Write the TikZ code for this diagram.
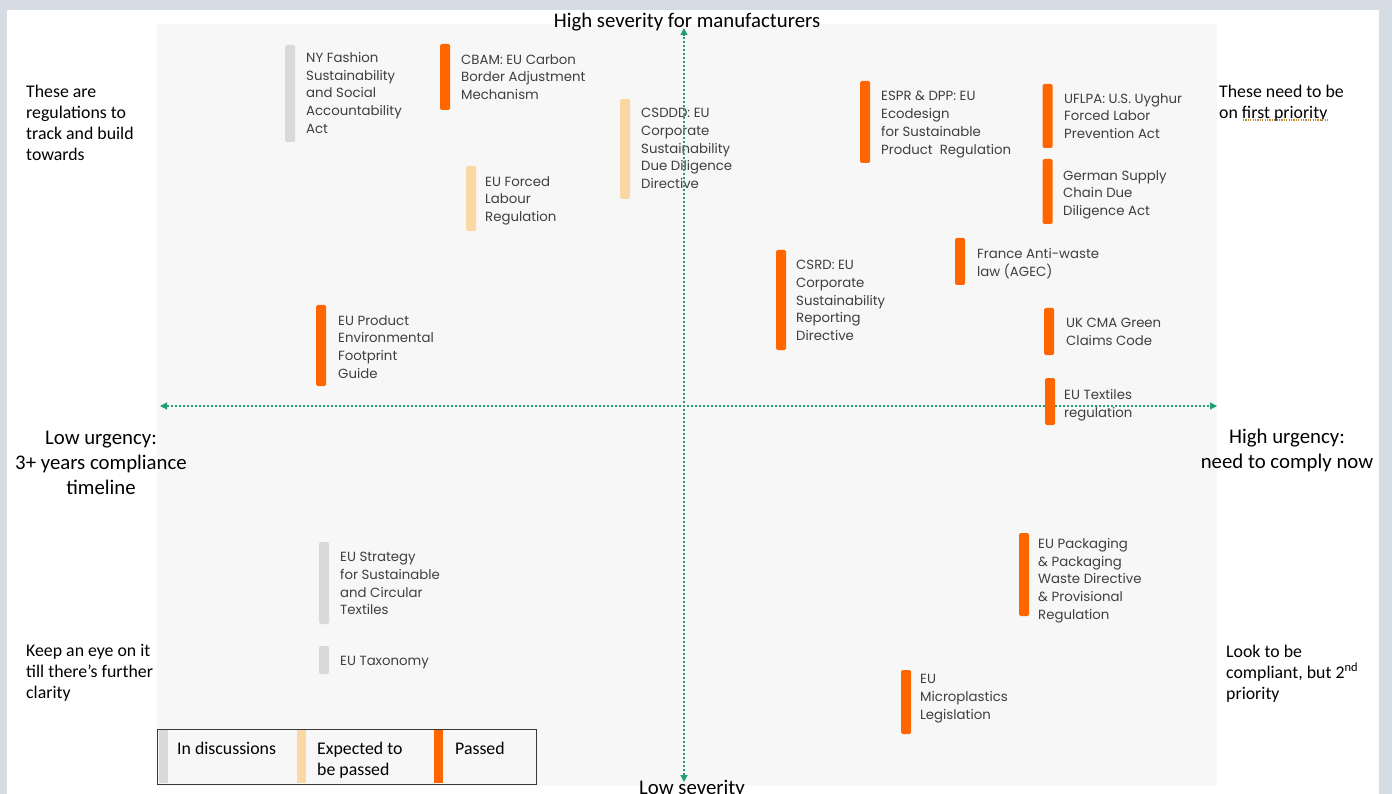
\documentclass[tikz,border=0pt]{standalone}
\usepackage{fontspec}
\setmainfont{Carlito}
\newfontfamily\labelfont{Poppins}
\usetikzlibrary{arrows.meta}
\definecolor{pagebg}{HTML}{D6DCE4}
\definecolor{plotbg}{HTML}{F7F7F7}
\definecolor{passedc}{HTML}{FF6600}
\definecolor{expectedc}{HTML}{F9D8A4}
\definecolor{discussc}{HTML}{D9D9D9}
\definecolor{axisc}{HTML}{1F9E78}
\definecolor{labelc}{HTML}{3F3F3F}
\definecolor{legendc}{HTML}{3A3A3A}
\definecolor{squiggle}{HTML}{C08A30}

\begin{document}
\begin{tikzpicture}[x=1pt,y=-1pt,
  regbar/.style={rectangle, rounded corners=1.5pt, minimum width=10pt, inner sep=0pt, outer sep=0pt},
  passed/.style={regbar, fill=passedc},
  expected/.style={regbar, fill=expectedc},
  discussed/.style={regbar, fill=discussc},
  reglabel/.style={anchor=north west, inner sep=0pt, align=left, text=labelc, font=\labelfont\fontsize{13.3}{17.8}\selectfont},
  note/.style={anchor=north west, inner sep=0pt, align=left, font=\fontsize{17.8}{21}\selectfont},
  axislabel/.style={inner sep=0pt, align=center, font=\fontsize{20.8}{25}\selectfont},
  keybar/.style={rectangle, inner sep=0pt, minimum width=9pt, minimum height=53pt, anchor=north west},
  keytext/.style={anchor=north west, inner sep=0pt, align=left, font=\fontsize{17.8}{21}\selectfont},
  axisline/.style={draw=axisc, line width=1.1pt, dash pattern=on 2.2pt off 1.8pt,
    {Triangle[length=7pt,width=7pt]}-{Triangle[length=7pt,width=7pt]}},
]
\useasboundingbox (0,0) rectangle (1392,794);

% page, slide and plotting area
\fill[pagebg] (0,0) rectangle (1392,794);
\fill[white] (7,10) rectangle (1379,794);
\fill[plotbg] (157,24) rectangle (1217,786);

% quadrant notes
\node[note] (tl) at (26,84.5) {These are\\regulations to\\track and build\\towards};
\node[note] (tr) at (1219,84.5) {These need to be\\on first priority};
\draw[squiggle, line width=1.2pt, dash pattern=on 1.2pt off 1.2pt] (1243,120) -- (1329,120);
\node[note] (bl) at (26,644.5) {Keep an eye on it\\till there’s further\\clarity};
\node[note] (br) at (1226,644.5) {Look to be\\compliant, but 2\textsuperscript{nd}\\priority};

% axis captions (the bottom one runs off the slide's lower edge)
\node[axislabel] (top) at (687,22) {High severity for manufacturers};
\node[axislabel] (bottom) at (692,789) {Low severity};
\node[axislabel] (left) at (101,463) {Low urgency:\\3+ years compliance\\timeline};
\node[axislabel] (right) at (1287,450.5) {High urgency:\\need to comply now};

% regulation labels
\node[reglabel] (ny) at (306,52) {NY Fashion\\Sustainability\\and Social\\Accountability\\Act};
\node[reglabel] (cbam) at (461,54) {CBAM: EU Carbon\\Border Adjustment\\Mechanism};
\node[reglabel] (csddd) at (641,108) {CSDDD: EU\\Corporate\\Sustainability\\Due Diligence\\Directive};
\node[reglabel] (forced) at (485,176) {EU Forced\\Labour\\Regulation};
\node[reglabel] (espr) at (881,91) {ESPR \& DPP: EU\\Ecodesign\\for Sustainable\\Product\ \ Regulation};
\node[reglabel] (uflpa) at (1064,93) {UFLPA: U.S. Uyghur\\Forced Labor\\Prevention Act};
\node[reglabel] (german) at (1063,170) {German Supply\\Chain Due\\Diligence Act};
\node[reglabel] (france) at (977,248) {France Anti-waste\\law (AGEC)};
\node[reglabel] (csrd) at (796,260) {CSRD: EU\\Corporate\\Sustainability\\Reporting\\Directive};
\node[reglabel] (ukcma) at (1066,318) {UK CMA Green\\Claims Code};
\node[reglabel] (textiles) at (1064,389) {EU Textiles\\regulation};
\node[reglabel] (pef) at (338,315) {EU Product\\Environmental\\Footprint\\Guide};
\node[reglabel] (strategy) at (340,552) {EU Strategy\\for Sustainable\\and Circular\\Textiles};
\node[reglabel] (taxonomy) at (340,656) {EU Taxonomy};
\node[reglabel] (packaging) at (1038,538) {EU Packaging\\\& Packaging\\Waste Directive\\\& Provisional\\Regulation};
\node[reglabel] (micro) at (920,674) {EU\\Microplastics\\Legislation};

% axes
\coordinate (xmin) at (160,406);
\coordinate (xmax) at (1217,406);
\coordinate (ymin) at (684,782);
\coordinate (ymax) at (684,28);
\draw[axisline] (xmin) -- (xmax);
\draw[axisline] (ymin) -- (ymax);

% status bars
\node[discussed, minimum height=97pt] (ny-bar) at (290,93.5) {};
\node[passed, minimum height=66pt] (cbam-bar) at (445,77) {};
\node[expected, minimum height=100pt] (csddd-bar) at (625,149) {};
\node[expected, minimum height=65pt] (forced-bar) at (471,198.5) {};
\node[passed, minimum height=82pt] (espr-bar) at (865,122) {};
\node[passed, minimum height=64pt] (uflpa-bar) at (1047.5,116) {};
\node[passed, minimum height=65pt] (german-bar) at (1047.5,191.5) {};
\node[passed, minimum height=47pt] (france-bar) at (960,261.5) {};
\node[passed, minimum height=100pt] (csrd-bar) at (781,300) {};
\node[passed, minimum height=47pt] (ukcma-bar) at (1049,331.5) {};
\node[passed, minimum height=47pt] (textiles-bar) at (1050,401.5) {};
\node[passed, minimum height=81pt] (pef-bar) at (321,345.5) {};
\node[discussed, minimum height=82pt] (strategy-bar) at (324,583) {};
\node[discussed, minimum height=28pt] (taxonomy-bar) at (324,660) {};
\node[passed, minimum height=83pt] (packaging-bar) at (1024,574.5) {};
\node[passed, minimum height=64pt] (micro-bar) at (906,702) {};

% legend
\node[draw=legendc, line width=1pt, anchor=north west, inner sep=0pt,
      minimum width=379pt, minimum height=55pt] (legend) at (157,729) {};
\node[keybar, fill=discussc] (key-discuss) at (159,730) {};
\node[keybar, fill=expectedc] (key-expected) at (297,730) {};
\node[keybar, fill=passedc] (key-passed) at (434,730) {};
\node[keytext] (key-discuss-text) at (177,741.5) {In discussions};
\node[keytext] (key-expected-text) at (317,741.5) {Expected to\\be passed};
\node[keytext] (key-passed-text) at (455,741.5) {Passed};
\end{tikzpicture}
\end{document}
